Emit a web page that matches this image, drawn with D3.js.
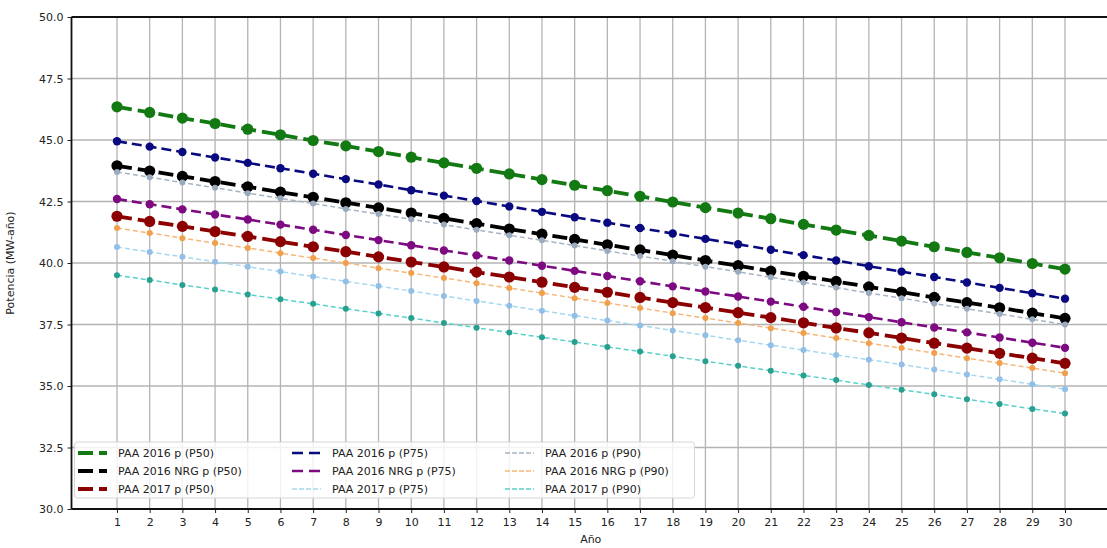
<!DOCTYPE html>
<html>
<head>
<meta charset="utf-8">
<script src="https://cdn.jsdelivr.net/npm/d3@7"></script>
<style>
  html, body { margin: 0; padding: 0; background: #fff; }
  svg { display: block; font-family: "DejaVu Sans", sans-serif; }
</style>
</head>
<body>
<svg id="chart" width="1107" height="548"></svg>
<script>
// ---- data ----
const years = [1,2,3,4,5,6,7,8,9,10,11,12,13,14,15,16,17,18,19,20,21,22,23,24,25,26,27,28,29,30];
const yTicks = [30, 32.5, 35, 37.5, 40, 42.5, 45, 47.5, 50];

const paa2016_P50 = [46.35,46.12,45.89,45.67,45.44,45.21,44.98,44.76,44.53,44.30,44.07,43.85,43.62,43.39,43.16,42.94,42.71,42.48,42.25,42.03,41.80,41.57,41.34,41.12,40.89,40.66,40.43,40.21,39.98,39.75];
const paa2016NRG_P50 = [43.95,43.74,43.52,43.31,43.10,42.88,42.67,42.45,42.24,42.03,41.81,41.60,41.38,41.17,40.96,40.74,40.53,40.32,40.10,39.89,39.67,39.46,39.25,39.03,38.82,38.60,38.39,38.18,37.96,37.75];
const paa2017_P50 = [41.90,41.69,41.49,41.28,41.08,40.87,40.66,40.46,40.25,40.04,39.84,39.63,39.43,39.22,39.01,38.81,38.60,38.39,38.19,37.98,37.78,37.57,37.36,37.16,36.95,36.74,36.54,36.33,36.13,35.92];
const paa2016_P75 = [44.95,44.73,44.51,44.29,44.07,43.85,43.63,43.41,43.19,42.96,42.74,42.52,42.30,42.08,41.86,41.64,41.42,41.20,40.98,40.76,40.54,40.32,40.10,39.87,39.65,39.43,39.21,38.99,38.77,38.55];
const paa2016NRG_P75 = [42.60,42.39,42.18,41.97,41.77,41.56,41.35,41.14,40.93,40.72,40.51,40.31,40.10,39.89,39.68,39.47,39.26,39.05,38.84,38.64,38.43,38.22,38.01,37.80,37.59,37.38,37.18,36.97,36.76,36.55];
const paa2017_P75 = [40.65,40.45,40.25,40.05,39.85,39.65,39.45,39.25,39.06,38.86,38.66,38.46,38.26,38.06,37.86,37.66,37.46,37.26,37.06,36.86,36.66,36.46,36.26,36.07,35.87,35.67,35.47,35.27,35.07,34.87];
const paa2016_P90 = [43.70,43.49,43.27,43.06,42.84,42.63,42.42,42.20,41.99,41.78,41.56,41.35,41.13,40.92,40.71,40.49,40.28,40.07,39.85,39.64,39.42,39.21,39.00,38.78,38.57,38.35,38.14,37.93,37.71,37.50];
const paa2016NRG_P90 = [41.42,41.22,41.01,40.81,40.61,40.40,40.20,40.00,39.79,39.59,39.39,39.18,38.98,38.78,38.57,38.37,38.17,37.96,37.76,37.56,37.35,37.15,36.95,36.74,36.54,36.34,36.13,35.93,35.73,35.52];
const paa2017_P90 = [39.50,39.31,39.11,38.92,38.72,38.53,38.34,38.14,37.95,37.76,37.56,37.37,37.17,36.98,36.79,36.59,36.40,36.21,36.01,35.82,35.62,35.43,35.24,35.04,34.85,34.66,34.46,34.27,34.07,33.88];

const seriesNames = [
  "PAA 2016 p (P50)", "PAA 2016 NRG p (P50)", "PAA 2017 p (P50)",
  "PAA 2016 p (P75)", "PAA 2016 NRG p (P75)", "PAA 2017 p (P75)",
  "PAA 2016 p (P90)", "PAA 2016 NRG p (P90)", "PAA 2017 p (P90)"
];
const seriesValues = [
  paa2016_P50, paa2016NRG_P50, paa2017_P50,
  paa2016_P75, paa2016NRG_P75, paa2017_P75,
  paa2016_P90, paa2016NRG_P90, paa2017_P90
];

// ---- styles ----
const lineColors   = ["#137a13", "#000000", "#8b0000", "#0a0a80", "#7d0a80", "#a6d8ef", "#a7b3c4", "#f6b77a", "#59d0c8"];
const markerColors = ["#137a13", "#000000", "#8b0000", "#0a0a80", "#7d0a80", "#92bfe8", "#9aaabf", "#f0a04a", "#28a08f"];
const tier = [0,0,0,1,1,2,2,2,2];
const tierStyle = [
  { w: 3.8, dash: "15,6", r: 5.6 },
  { w: 2.6, dash: "10,5", r: 4.2 },
  { w: 1.5, dash: "5,3",  r: 3.0 }
];

// ---- layout ----
const svg = d3.select("#chart");
const pL = 71.5, pT = 17, pB = 509, pR = 1112;

const x = d3.scaleLinear().domain([1, 30]).range([117, 1065]);
const y = d3.scaleLinear().domain([30, 50]).range([pB, pT]);

svg.append("defs").append("clipPath").attr("id", "clip")
  .append("rect").attr("x", pL).attr("y", pT).attr("width", pR - pL).attr("height", pB - pT);

// grid
const grid = svg.append("g").attr("stroke", "#b4b4b4").attr("stroke-width", 1.3);
grid.selectAll("line.gx").data(years).join("line").attr("class", "gx")
  .attr("x1", d => x(d)).attr("x2", d => x(d)).attr("y1", pT).attr("y2", pB);
grid.selectAll("line.gy").data(yTicks).join("line").attr("class", "gy")
  .attr("x1", pL).attr("x2", pR).attr("y1", d => y(d)).attr("y2", d => y(d));

// series
const plot = svg.append("g").attr("clip-path", "url(#clip)");
seriesValues.forEach((vals, i) => {
  const st = tierStyle[tier[i]];
  const pts = years.map((yr, k) => [yr, vals[k]]);
  const line = d3.line().x(d => x(d[0])).y(d => y(d[1]));
  plot.append("path").datum(pts)
    .attr("d", line).attr("fill", "none")
    .attr("stroke", lineColors[i]).attr("stroke-width", st.w)
    .attr("stroke-dasharray", st.dash);
  plot.append("g").selectAll("circle").data(pts).join("circle")
    .attr("cx", d => x(d[0])).attr("cy", d => y(d[1])).attr("r", st.r)
    .attr("fill", markerColors[i]);
});

// axes
const xAxis = d3.axisBottom(x).tickValues(years).tickSize(4).tickPadding(5).tickFormat(d3.format("d"));
const gx = svg.append("g").attr("transform", `translate(0,${pB})`).call(xAxis);
gx.select(".domain").remove();
const yAxis = d3.axisLeft(y).tickValues(yTicks).tickSize(4).tickPadding(4).tickFormat(d3.format(".1f"));
const gy = svg.append("g").attr("transform", `translate(${pL},0)`).call(yAxis);
gy.select(".domain").remove();
[gx, gy].forEach(g => {
  g.selectAll("text").attr("font-size", 11).attr("fill", "#222").attr("font-family", "DejaVu Sans, sans-serif");
  g.selectAll("line").attr("stroke", "#222").attr("stroke-width", 1);
});

// spines
const sp = svg.append("g").attr("stroke", "#111").attr("stroke-width", 1.8).attr("fill", "none");
sp.append("line").attr("x1", pL).attr("x2", pL).attr("y1", pT).attr("y2", pB);
sp.append("line").attr("x1", pL).attr("x2", pR).attr("y1", pB).attr("y2", pB);
sp.append("line").attr("x1", pL).attr("x2", pR).attr("y1", pT).attr("y2", pT);

// axis labels
svg.append("text").attr("x", (pL + 1110) / 2).attr("y", 543)
  .attr("text-anchor", "middle").attr("font-size", 11).attr("fill", "#222").text("Año");
svg.append("text").attr("transform", `translate(14,${(pT + pB) / 2}) rotate(-90)`)
  .attr("text-anchor", "middle").attr("font-size", 11).attr("fill", "#222").text("Potencia (MW-año)");

// legend
const lg = svg.append("g");
lg.append("rect").attr("x", 74.5).attr("y", 442).attr("width", 620).attr("height", 56)
  .attr("rx", 3).attr("fill", "#fff").attr("fill-opacity", 0.82)
  .attr("stroke", "#d6d6d6").attr("stroke-width", 1);
const colX = [78, 292, 505];
const rowY = [453, 471, 489];
seriesNames.forEach((name, i) => {
  const c = Math.floor(i / 3), r = i % 3;
  const st = tierStyle[tier[i]];
  const hx = colX[c], hy = rowY[r];
  const legDash = tier[i] === 0 ? "15,6" : (tier[i] === 1 ? "11,6" : "5,2");
  lg.append("line").attr("x1", hx).attr("x2", hx + 29).attr("y1", hy).attr("y2", hy)
    .attr("stroke", lineColors[i]).attr("stroke-width", st.w).attr("stroke-dasharray", legDash);
  lg.append("text").attr("x", hx + 40).attr("y", hy + 4).attr("font-size", 11).attr("fill", "#222").text(name);
});
</script>
</body>
</html>
